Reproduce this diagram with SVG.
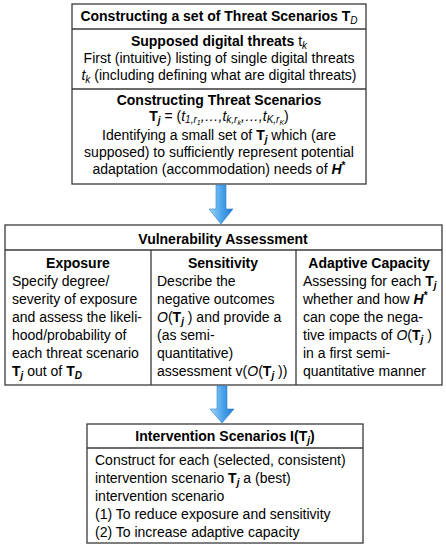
<svg xmlns="http://www.w3.org/2000/svg" width="446" height="550" viewBox="0 0 446 550">
<style>
.box{fill:#fff;stroke:#3a3a3a;stroke-width:1.3}
.ln{stroke:#3a3a3a;stroke-width:1.3;fill:none}
text{font-family:"Liberation Sans",Arial,sans-serif;font-size:14px;fill:#000}
.c{text-anchor:middle}
.b{font-weight:bold}
.i{font-style:italic}
.s{font-size:10px}
.ss{font-size:7px}
.arrow{fill:url(#ag);stroke:#2a7fd0;stroke-width:0.6}
</style>
<defs>
<linearGradient id="ag" x1="0" y1="0" x2="1" y2="0">
<stop offset="0" stop-color="#a8d8f8"/>
<stop offset="0.5" stop-color="#4fa6ec"/>
<stop offset="1" stop-color="#1f78d2"/>
</linearGradient>
</defs>

<g id="threat-scenarios">
<rect class="box" x="72" y="4" width="294" height="180"/>
<line class="ln" x1="72" y1="29" x2="366" y2="29"/>
<line class="ln" x1="72" y1="89" x2="366" y2="89"/>
<text class="c b" x="219" y="21">Constructing a set of Threat Scenarios T<tspan class="s i" font-weight="normal" dy="3">D</tspan></text>
<text class="c" x="219" y="46"><tspan class="b">Supposed digital threats </tspan>t<tspan class="s i" dy="3">k</tspan></text>
<text class="c" x="219" y="63">First (intuitive) listing of single digital threats</text>
<text class="c" x="219" y="80"><tspan class="i">t</tspan><tspan class="s i" dy="3">k</tspan><tspan dy="-3"> (including defining what are digital threats)</tspan></text>
<text class="c b" x="219" y="105">Constructing Threat Scenarios</text>
<text class="c" x="219" y="121"><tspan class="b">T</tspan><tspan class="s b i" dy="2.5">j</tspan><tspan dy="-2.5"> = (</tspan><tspan class="i">t</tspan><tspan class="s i" dy="2">1,r</tspan><tspan class="ss i" dy="1.5">1</tspan><tspan class="i" dy="-3.5">,…,t</tspan><tspan class="s i" dy="2">k,r</tspan><tspan class="ss i" dy="1.5">k</tspan><tspan class="i" dy="-3.5">,…,t</tspan><tspan class="s i" dy="2">K,r</tspan><tspan class="ss i" dy="1.5">K</tspan><tspan dy="-3.5">)</tspan></text>
<text class="c" x="219" y="140">Identifying a small set of <tspan class="b">T</tspan><tspan class="s b i" dy="3">j</tspan><tspan dy="-3"> which (are</tspan></text>
<text class="c" x="219" y="157">supposed) to sufficiently represent potential</text>
<text class="c" x="219" y="174">adaptation (accommodation) needs of <tspan class="b i">H</tspan><tspan class="s b" dy="-5">*</tspan></text>
</g>

<g id="vulnerability-assessment">
<rect class="box" x="5" y="225" width="437" height="160"/>
<line class="ln" x1="5" y1="250" x2="442" y2="250"/>
<line class="ln" x1="151" y1="250" x2="151" y2="385"/>
<line class="ln" x1="296" y1="250" x2="296" y2="385"/>
<text class="c b" x="223" y="244">Vulnerability Assessment</text>
</g>

<g id="exposure">
<text class="c b" x="78" y="268">Exposure</text>
<text x="12" y="286">Specify degree/</text>
<text x="12" y="304">severity of exposure</text>
<text x="12" y="322">and assess the likeli-</text>
<text x="12" y="340">hood/probability of</text>
<text x="12" y="358">each threat scenario</text>
<text x="12" y="376"><tspan class="b">T</tspan><tspan class="s b i" dy="3">j</tspan><tspan dy="-3"> out of </tspan><tspan class="b">T</tspan><tspan class="s b i" dy="3">D</tspan></text>
</g>

<g id="sensitivity">
<text class="c b" x="223" y="268">Sensitivity</text>
<text x="157" y="286">Describe the</text>
<text x="157" y="304">negative outcomes</text>
<text x="157" y="322"><tspan class="i">O</tspan>(<tspan class="b">T</tspan><tspan class="s b i" dy="3">j</tspan><tspan dy="-3"> ) and provide a</tspan></text>
<text x="157" y="340">(as semi-</text>
<text x="157" y="358">quantitative)</text>
<text x="157" y="376">assessment v(<tspan class="i">O</tspan>(<tspan class="b">T</tspan><tspan class="s b i" dy="3">j</tspan><tspan dy="-3"> ))</tspan></text>
</g>

<g id="adaptive-capacity">
<text class="c b" x="369" y="268">Adaptive Capacity</text>
<text x="303" y="286">Assessing for each <tspan class="b">T</tspan><tspan class="s b i" dy="3">j</tspan></text>
<text x="303" y="304">whether and how <tspan class="b i">H</tspan><tspan class="s b" dy="-5">*</tspan></text>
<text x="303" y="322">can cope the nega-</text>
<text x="303" y="340">tive impacts of <tspan class="i">O</tspan>(<tspan class="b">T</tspan><tspan class="s b i" dy="3">j</tspan><tspan dy="-3"> )</tspan></text>
<text x="303" y="358">in a first semi-</text>
<text x="303" y="376">quantitative manner</text>
</g>

<g id="intervention-scenarios">
<rect class="box" x="87" y="424" width="276" height="119"/>
<line class="ln" x1="87" y1="448" x2="363" y2="448"/>
<text class="c b" x="225" y="441">Intervention Scenarios I(T<tspan class="s i" dy="3">j</tspan><tspan dy="-3">)</tspan></text>
<text x="95" y="465">Construct for each (selected, consistent)</text>
<text x="95" y="483">intervention scenario <tspan class="b">T</tspan><tspan class="s b i" dy="3">j</tspan><tspan dy="-3"> a (best)</tspan></text>
<text x="95" y="501">intervention scenario</text>
<text x="95" y="519">(1) To reduce exposure and sensitivity</text>
<text x="95" y="537">(2) To increase adaptive capacity</text>
</g>

<g id="connectors">
<path class="arrow" d="M216,185 H226 V209 H233 L221,224 L209,209 H216 Z"/>
<path class="arrow" d="M217,386 H227 V409 H234 L222,423 L210,409 H217 Z"/>
</g>
</svg>
